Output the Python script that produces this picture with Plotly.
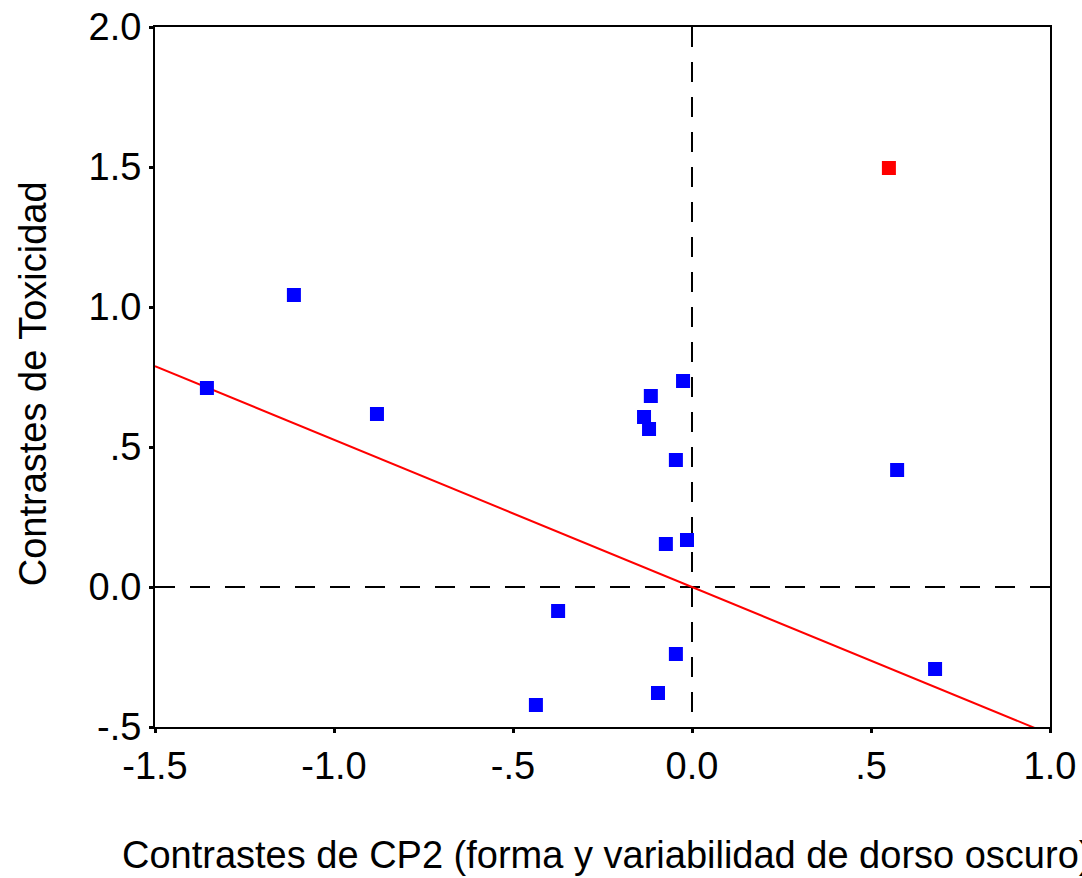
import plotly.graph_objects as go

# Phylogenetic independent contrasts
cp2_contrasts = [-1.112, -1.355, -0.880, -0.115, -0.025, -0.134, -0.120, -0.045,
                 0.573, -0.073, -0.014, -0.374, -0.045, -0.095, -0.436, 0.679]
tox_contrasts = [1.043, 0.711, 0.618, 0.682, 0.736, 0.607, 0.564, 0.454,
                 0.418, 0.154, 0.168, -0.086, -0.239, -0.379, -0.421, -0.293]

# Outlying contrast highlighted in red
outlier_x = [0.550]
outlier_y = [1.496]

# Regression through the origin
fit_x = [-1.5, 1.0]
fit_y = [0.789, -0.526]

x_ticks = [-1.5, -1.0, -0.5, 0.0, 0.5, 1.0]
x_labels = ["-1.5", "-1.0", "-.5", "0.0", ".5", "1.0"]
y_ticks = [-0.5, 0.0, 0.5, 1.0, 1.5, 2.0]
y_labels = ["-.5", "0.0", ".5", "1.0", "1.5", "2.0"]

FONT = "Liberation Sans, Arial, sans-serif"
FSIZE = 38

fig = go.Figure()

fig.add_trace(go.Scatter(
    x=fit_x, y=fit_y, mode="lines",
    line=dict(color="#ff0000", width=2), hoverinfo="skip"))

fig.add_trace(go.Scatter(
    x=cp2_contrasts, y=tox_contrasts, mode="markers",
    marker=dict(symbol="square", size=12, color="#0000ff",
                line=dict(color="#0000ff", width=2))))

fig.add_trace(go.Scatter(
    x=outlier_x, y=outlier_y, mode="markers",
    marker=dict(symbol="square", size=12, color="#ff0000",
                line=dict(color="#ff0000", width=2))))

# Reference lines at zero
fig.add_shape(type="line", x0=0, x1=0, y0=2.0, y1=-0.5, xref="x", yref="y",
              line=dict(color="black", width=2, dash="20px,15px"), layer="below")
fig.add_shape(type="line", x0=-1.5, x1=1.0, y0=0, y1=0, xref="x", yref="y",
              line=dict(color="black", width=2, dash="20px,15px"), layer="below")

axis_common = dict(
    showgrid=False, zeroline=False, showline=True, linecolor="black",
    linewidth=2, mirror=True, ticks="outside", ticklen=4, tickwidth=3,
    tickcolor="black", tickfont=dict(family=FONT, size=FSIZE, color="black"),
    automargin=False,
)

fig.update_xaxes(range=[-1.5, 1.0], tickvals=x_ticks, ticktext=x_labels, **axis_common)
fig.update_yaxes(range=[-0.5, 2.0], tickvals=y_ticks, ticktext=y_labels, **axis_common)

fig.add_annotation(
    text="Contrastes de CP2 (forma y variabilidad de dorso oscuro)",
    xref="paper", yref="paper", x=-0.039, y=-0.183,
    xanchor="left", yanchor="middle", showarrow=False,
    font=dict(family=FONT, size=FSIZE, color="black"))

fig.add_annotation(
    text="Contrastes de Toxicidad",
    xref="paper", yref="paper", x=-0.136, y=0.49,
    xanchor="center", yanchor="middle", textangle=-90, showarrow=False,
    font=dict(family=FONT, size=FSIZE, color="black"))

fig.update_layout(
    width=1082, height=878,
    margin=dict(l=155, r=32, t=27, b=151),
    plot_bgcolor="white", paper_bgcolor="white",
    showlegend=False,
    font=dict(family=FONT, color="black"),
)

fig.write_html("out.html")
